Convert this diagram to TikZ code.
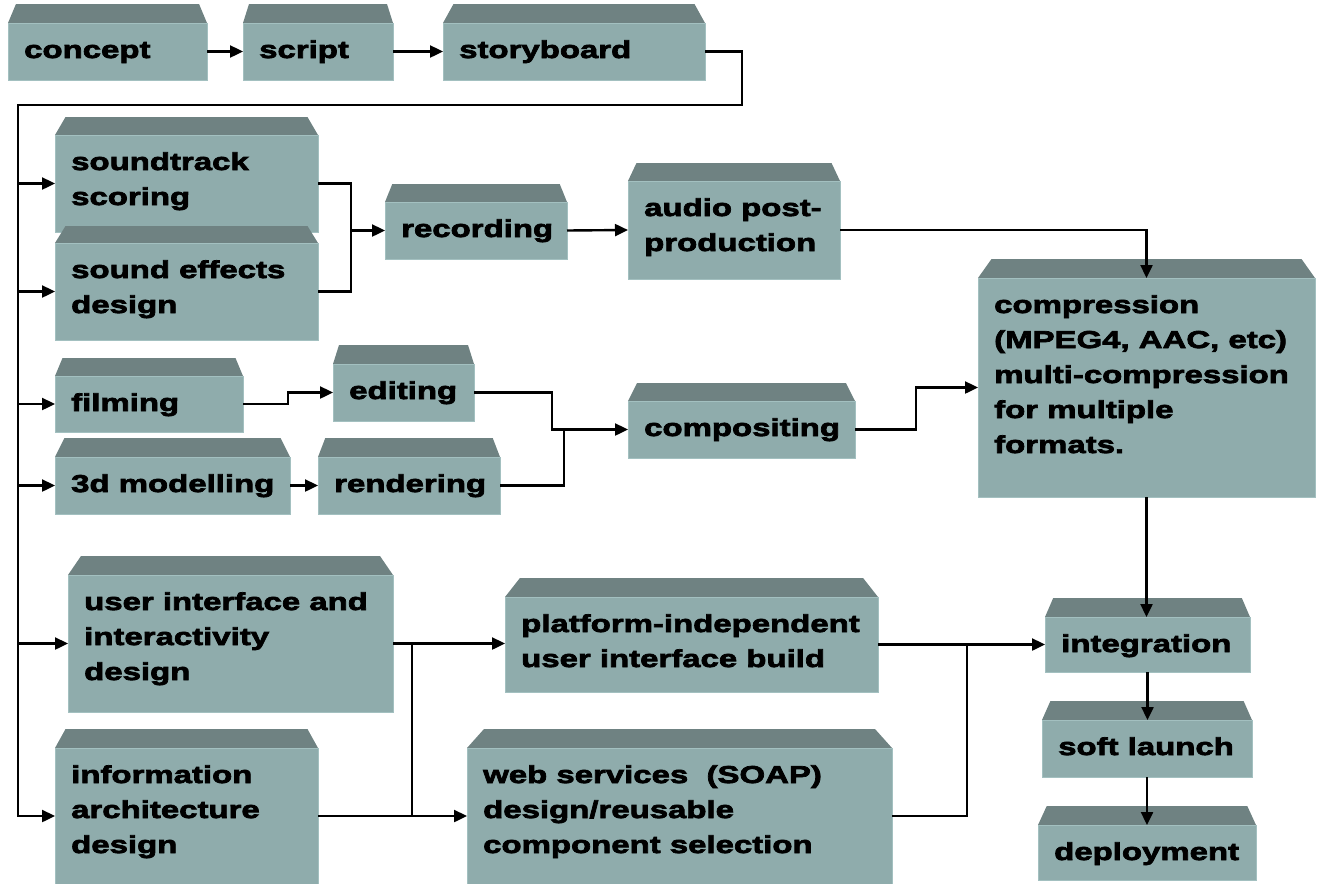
\documentclass[tikz,border=0pt]{standalone}
\usepackage{fontspec}
\newfontfamily\lblfont{Liberation Sans}[FakeStretch=1.35,FakeBold=3]
\usetikzlibrary{arrows.meta}

\definecolor{bandfill}{HTML}{6F8282}
\definecolor{facefill}{HTML}{8FACAC}
\definecolor{facerim}{HTML}{A3C0C0}

\tikzset{
  face/.style={draw=facerim, fill=facefill, line width=0.8pt, inner sep=0pt, outer sep=0pt},
  lbl/.style={inner sep=0pt, anchor=base west,
    font=\lblfont\bfseries\fontsize{24.4}{35}\selectfont},
  link/.style={draw=black, line width=2.4pt},
  arr/.style={link, -{Triangle[length=13pt,width=12pt]}},
}

% #1 name, #2 left, #3 right, #4 top of the bevel band, #5 top of the face,
% #6 bottom of the face, #7 label lines
\newcommand\stage[7]{%
  \pgfmathsetmacro\bevel{max(6,0.04*(#3-#2))}%
  \fill[bandfill] (#2,-#5) -- (#2+\bevel,-#4) -- (#3-\bevel,-#4) -- (#3,-#5) -- cycle;
  \node[face, minimum width={(#3-#2)*1pt}, minimum height={(#6-#5)*1pt}]
    (#1) at ({(#2+#3)/2},{-(#5+#6)/2}) {};
  \node[lbl] (#1-text) at ([shift={(16,-35)}]#1.north west)
    {\begin{tabular}[t]{@{}l@{}}#7\end{tabular}};
}

\begin{document}
\begin{tikzpicture}[x=1pt,y=1pt]
\useasboundingbox (0,0) rectangle (1318,-884);

% pre-production
\stage{concept}{8}{207}{4}{23}{80}{concept}
\stage{script}{243}{393}{4}{23}{80}{script}
\stage{storyboard}{443}{705}{4}{23}{80}{storyboard}

% audio track
\stage{soundtrack}{55}{318}{117}{135}{232}{soundtrack\\scoring}
\stage{sfx}{55}{318}{226}{243}{340}{sound effects\\design}
\stage{recording}{385}{567}{184}{202}{259}{recording}
\stage{audiopost}{628}{840}{163}{181}{279}{audio post-\\production}

% picture track
\stage{filming}{55}{243}{358}{376}{432}{filming}
\stage{editing}{333}{474}{345}{364}{421}{editing}
\stage{modelling}{55}{290}{438}{457}{514}{3d modelling}
\stage{rendering}{318}{500}{438}{457}{514}{rendering}
\stage{compositing}{628}{855}{383}{401}{458}{compositing}
\stage{compression}{978}{1315}{259}{278}{497}{compression\\(MPEG4, AAC, etc)\\multi-compression\\for multiple\\formats.}

% interactive part
\stage{uidesign}{68}{393}{556}{575}{712}{user interface and\\interactivity\\design}
\stage{infoarch}{55}{318}{729}{748}{884}{information\\architecture\\design}
\stage{uibuild}{505}{878}{578}{597}{692}{platform-independent\\user interface build}
\stage{webservices}{467}{892}{729}{748}{884}{web services~ (SOAP)\\design/reusable\\component selection}

% release
\stage{integration}{1045}{1250}{598}{617}{672}{integration}
\stage{softlaunch}{1042}{1252}{701}{720}{777}{soft launch}
\stage{deployment}{1038}{1256}{806}{825}{880}{deployment}

% top row
\draw[arr] (concept.east) -- (script.west);
\draw[arr] (script.east) -- (storyboard.west);

% distribution bus down the left side
\coordinate (busturn) at (742,-105);
\coordinate (bustop) at (18,-105);
\draw[arr] (storyboard.east) -| (busturn) -- (bustop) |- (infoarch.west);
\foreach \n in {soundtrack,sfx,filming,modelling,uidesign}
  \draw[arr] (bustop |- \n.west) -- (\n.west);

% audio
\path (recording.west) ++(-34,0) coordinate (audiojoin);
\draw[link] (soundtrack.east) -| (audiojoin) |- (sfx.east);
\draw[arr] (audiojoin) -- (recording.west);
\draw[arr] (recording.east) -- (audiopost.west);
\draw[arr] (audiopost.east) -| (compression.north);

% picture
\draw[arr] (filming.east) -- ++(45,0) |- (editing.west);
\draw[arr] (modelling.east) -- (rendering.west);
\path (compositing.west) ++(-76,0) coordinate (picjoin);
\draw[arr] (editing.east) -| (picjoin) -- (compositing.west);
\draw[link] (rendering.east) -| ([xshift=12]picjoin);
\draw[arr] (compositing.east) -- ++(61,0) |- (compression.west);

% interactive
\draw[arr] (uidesign.east) -- (uidesign.east -| uibuild.west);
\path (uidesign.east) ++(19,0) coordinate (uijoin);
\draw[link] (uijoin) -- (uijoin |- infoarch.east);
\draw[arr] (infoarch.east) -- (infoarch.east -| webservices.west);
\draw[arr] (uibuild.east) -- (uibuild.east -| integration.west);
\path (integration.west) ++(-78,0) coordinate (buildjoin);
\draw[link] (webservices.east) -| (buildjoin);

% release chain
\draw[arr] (compression.south) -- (compression.south |- integration.north);
\draw[arr] (integration.south) -- (integration.south |- softlaunch.north);
\draw[arr] (softlaunch.south) -- (softlaunch.south |- deployment.north);
\end{tikzpicture}
\end{document}
